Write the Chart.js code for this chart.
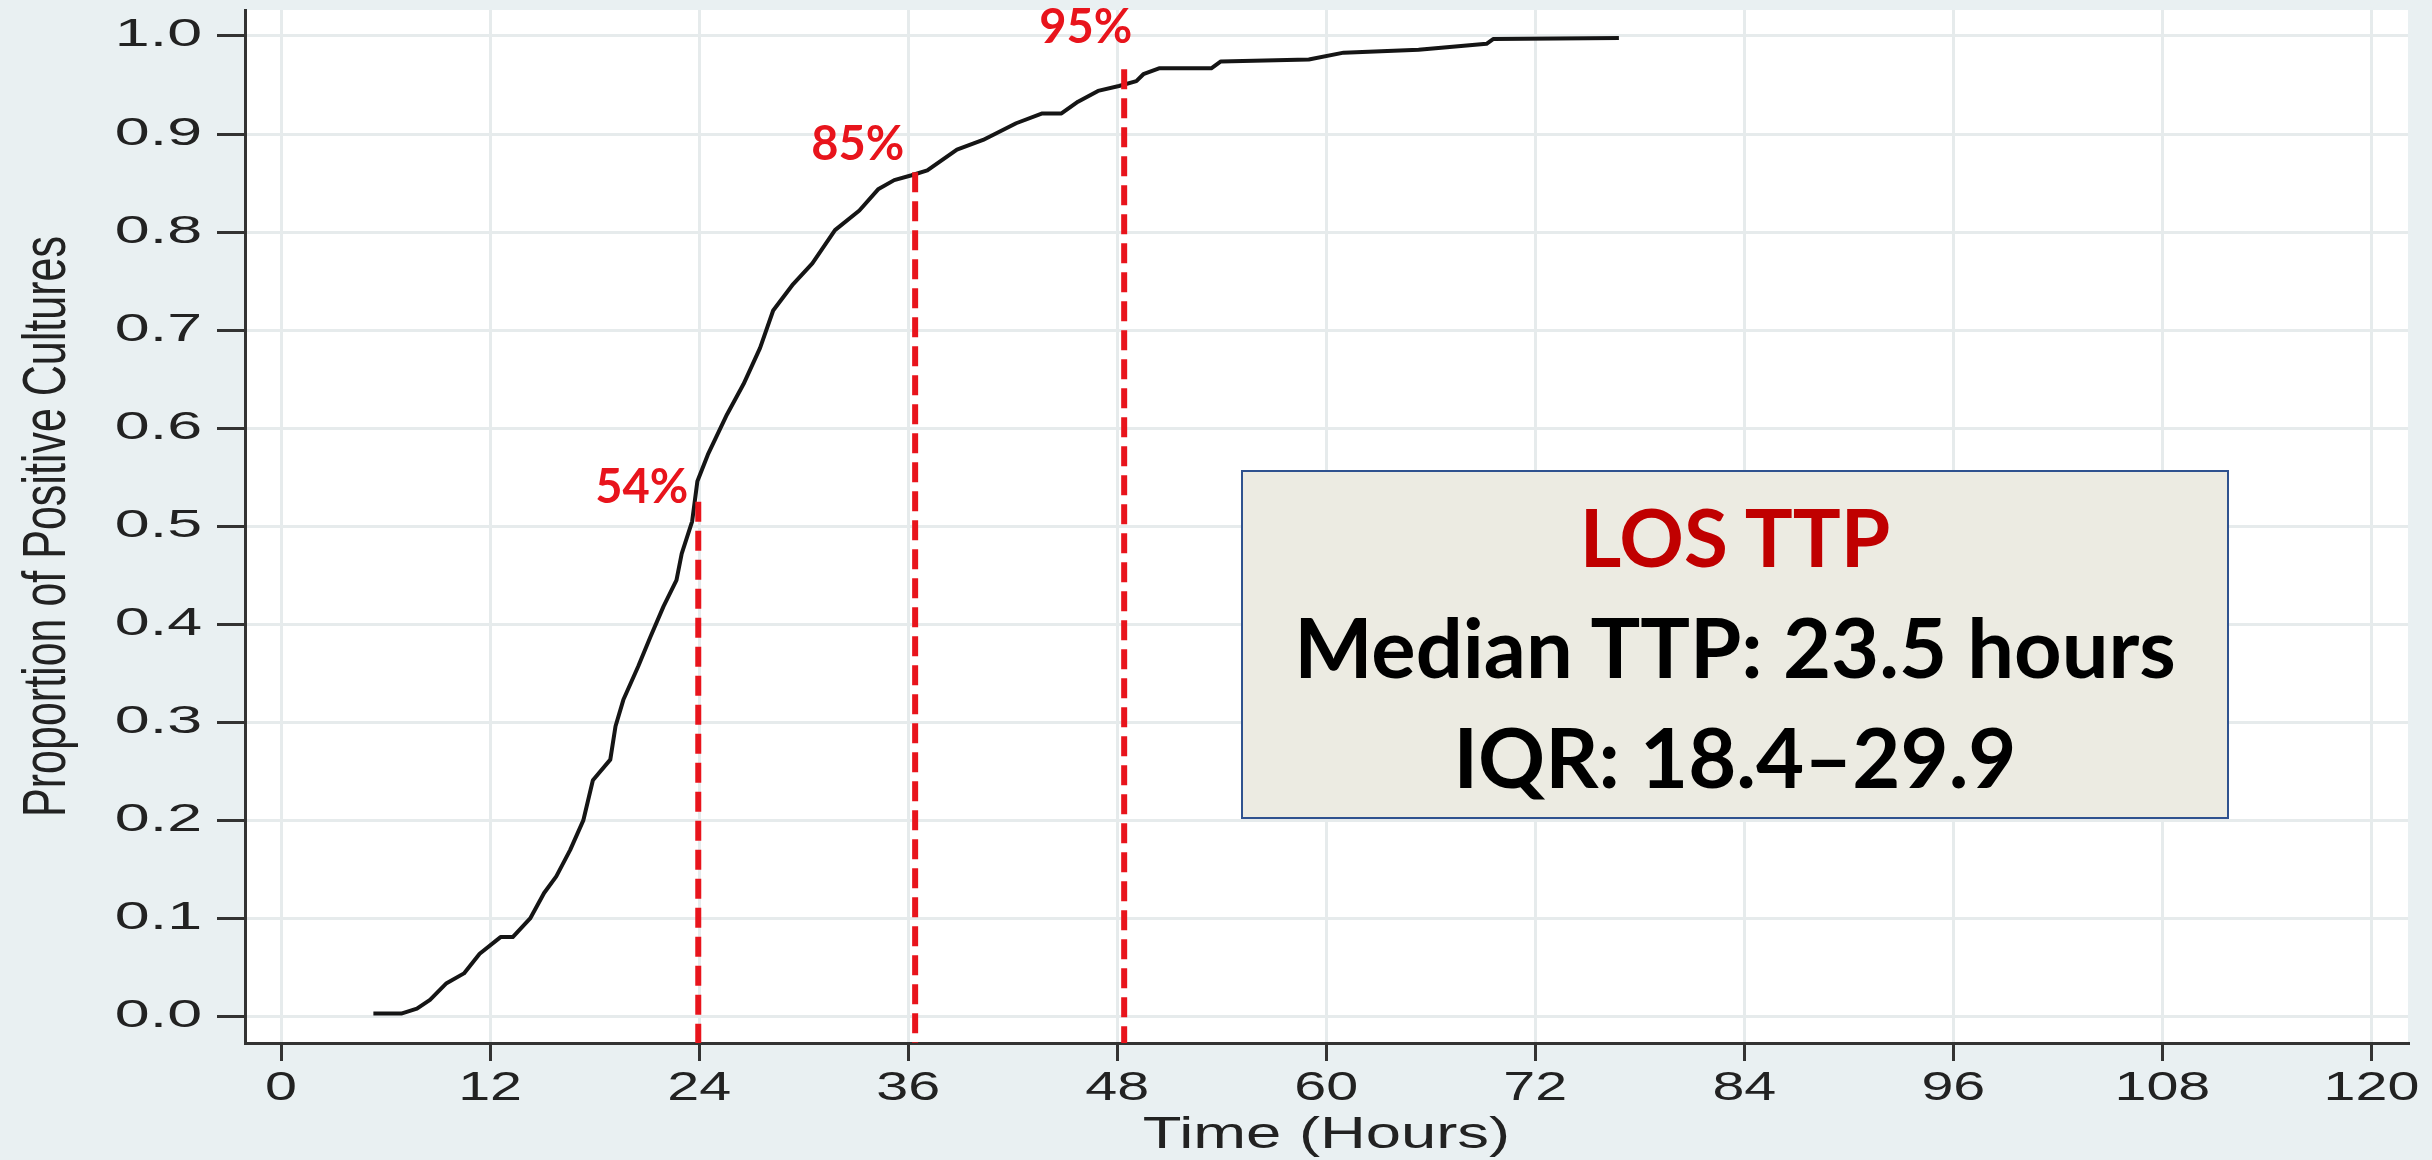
<!DOCTYPE html>
<html>
<head>
<meta charset="utf-8">
<script src="https://cdn.jsdelivr.net/npm/chart.js@4.4.0/dist/chart.umd.min.js"></script>
<style>
html,body{margin:0;padding:0;background:#e9f0f2;}
#wrap{position:relative;width:2432px;height:1160px;overflow:hidden;background:#e9f0f2;}
canvas{display:block;}
#box{position:absolute;left:1241px;top:470px;width:988px;height:349px;box-sizing:border-box;
  background:#ecebe2;border:2px solid #2f528f;padding-top:9px;
  font-family:Lato,"Open Sans",sans-serif;font-weight:700;font-size:83px;line-height:110px;text-align:center;color:#000;}
#box .t{color:#c00000;font-size:80px;}
</style>
</head>
<body>
<div id="wrap">
  <canvas id="c" width="2432" height="1160"></canvas>
  <div id="box"><div class="t">LOS TTP</div><div>Median TTP: 23.5 hours</div><div>IQR: 18.4–29.9</div></div>
</div>
<script>
// ---- data ----
const xTicks = [0, 12, 24, 36, 48, 60, 72, 84, 96, 108, 120];
const yTicks = [0.0, 0.1, 0.2, 0.3, 0.4, 0.5, 0.6, 0.7, 0.8, 0.9, 1.0];
const xRange = [-2.07, 122.1];
const yRange = [-0.027, 1.0265];

const hours = [5.3, 6.9, 7.8, 8.55, 9.5, 10.5, 11.4, 12.6, 13.3, 14.3, 15.1, 15.8, 16.6, 17.35, 17.9, 18.9, 19.2,
  19.65, 20.5, 21.2, 21.95, 22.7, 23.0, 23.6, 23.9, 24.5, 25.6, 26.55, 27.5, 28.25, 29.4, 30.5, 31.8, 33.2, 34.3,
  35.2, 36.2, 37.1, 38.8, 40.3, 42.2, 43.7, 44.8, 45.75, 46.9, 48.1, 49.1, 49.5, 50.4, 53.4, 53.95, 59.0, 61.0,
  65.3, 69.2, 69.6, 76.8];
const proportion = [0.003, 0.003, 0.008, 0.017, 0.034, 0.044, 0.064, 0.081, 0.081, 0.100, 0.126, 0.143, 0.170,
  0.200, 0.241, 0.262, 0.296, 0.323, 0.357, 0.387, 0.418, 0.445, 0.472, 0.505, 0.546, 0.573, 0.614, 0.645, 0.682,
  0.720, 0.747, 0.768, 0.802, 0.822, 0.844, 0.853, 0.858, 0.863, 0.884, 0.894, 0.911, 0.921, 0.921, 0.933, 0.944,
  0.949, 0.954, 0.961, 0.967, 0.967, 0.974, 0.976, 0.983, 0.986, 0.992, 0.997, 0.998];

const refHours = [23.95, 36.4, 48.4];
const refTops = [0.525, 0.861, 0.966];
const refLabels = ['54%', '85%', '95%'];
const refLabelHours = [20.7, 33.1, 46.2];
const refLabelProps = [0.5395, 0.889, 1.008];

// ---- styling helpers ----
const AXIS_FONT = "'Liberation Sans', Arial, sans-serif";
const STRETCH = { 38: 1.65, 41: 1.4, 43: 1.4, 44: 1.44 }; // horizontal stretch of the original lettering, by px size
const RED = '#e8141c';
const INK = '#222';

const canvas = document.getElementById('c');
const ctx = canvas.getContext('2d');
const origFill = ctx.fillText;
ctx.fillText = function (text, x, y, maxWidth) {
  if (this.font.indexOf('Liberation Sans') === -1) {
    return maxWidth === undefined ? origFill.call(this, text, x, y) : origFill.call(this, text, x, y, maxWidth);
  }
  const mm = /(\d+(?:\.\d+)?)px/.exec(this.font);
  const sx = (mm && STRETCH[Math.round(parseFloat(mm[1]))]) || 1.4;
  const m = this.getTransform();
  const p = m.transformPoint(new DOMPoint(x, y));
  this.save();
  this.setTransform(new DOMMatrix().translate(p.x, p.y).scale(sx, 1).translate(-p.x, -p.y).multiply(m));
  origFill.call(this, text, x, y);
  this.restore();
};

const bgPlugin = {
  id: 'bg',
  beforeDraw(chart) {
    const c = chart.ctx, a = chart.chartArea;
    c.save();
    c.fillStyle = '#e9f0f2';
    c.fillRect(0, 0, chart.width, chart.height);
    c.fillStyle = '#ffffff';
    c.fillRect(a.left, a.top, a.right - a.left, a.bottom - a.top);
    c.restore();
  }
};

const labelPlugin = {
  id: 'pctLabels',
  afterDatasetsDraw(chart) {
    const c = chart.ctx, xs = chart.scales.x, ys = chart.scales.y;
    c.save();
    c.font = "bold 47px Lato, 'Open Sans', sans-serif";
    c.fillStyle = RED;
    c.textAlign = 'center';
    c.textBaseline = 'middle';
    refLabels.forEach((t, i) => {
      c.fillText(t, xs.getPixelForValue(refLabelHours[i]), ys.getPixelForValue(refLabelProps[i]));
    });
    c.restore();
  }
};

const datasets = [];
refHours.forEach((h, i) => {
  datasets.push({
    data: [{x: h, y: refTops[i]}, {x: h, y: yRange[0]}],
    borderColor: RED, borderWidth: 6, borderDash: [20, 9], borderCapStyle: 'butt',
    pointRadius: 0, order: 0, clip: false
  });
});
datasets.push({
  data: hours.map((h, i) => ({x: h, y: proportion[i]})),
  borderColor: '#151515', borderWidth: 4, pointRadius: 0, tension: 0,
  borderJoinStyle: 'round', order: 1
});

new Chart(ctx, {
  type: 'line',
  data: { datasets },
  options: {
    responsive: false,
    animation: false,
    events: [],
    layout: { padding: { top: 10, right: 24, left: 0, bottom: 0 } },
    plugins: { legend: { display: false }, tooltip: { enabled: false } },
    scales: {
      x: {
        type: 'linear', min: xRange[0], max: xRange[1],
        afterBuildTicks: s => { s.ticks = xTicks.map(v => ({value: v})); },
        afterFit: s => { s.height = 117; s.paddingLeft = 0; s.paddingRight = 0; },
        ticks: { color: INK, padding: 3, font: { family: AXIS_FONT, size: 41 },
                 callback: v => String(v), maxRotation: 0, autoSkip: false },
        grid: { color: '#e6ebec', lineWidth: 3, tickColor: '#333', tickWidth: 3, tickLength: 18 },
        border: { color: '#333', width: 3 },
        title: { display: true, text: 'Time (Hours)', color: INK,
                 font: { family: AXIS_FONT, size: 44, lineHeight: 1 }, padding: { top: 0, bottom: 2 } }
      },
      y: {
        type: 'linear', min: yRange[0], max: yRange[1],
        afterBuildTicks: s => { s.ticks = yTicks.map(v => ({value: v})); },
        afterFit: s => { s.width = 245; s.paddingTop = 0; s.paddingBottom = 0; },
        ticks: { color: INK, padding: 15, font: { family: AXIS_FONT, size: 38 },
                 callback: v => Number(v).toFixed(1), autoSkip: false },
        grid: { color: '#e6ebec', lineWidth: 3, tickColor: '#333', tickWidth: 3, tickLength: 28 },
        border: { color: '#333', width: 3 },
        title: { display: true, text: 'Proportion of Positive Cultures', color: INK,
                 font: { family: AXIS_FONT, size: 43, lineHeight: 1 }, padding: { top: 27, bottom: 0 } }
      }
    }
  },
  plugins: [bgPlugin, labelPlugin]
});
</script>
</body>
</html>
